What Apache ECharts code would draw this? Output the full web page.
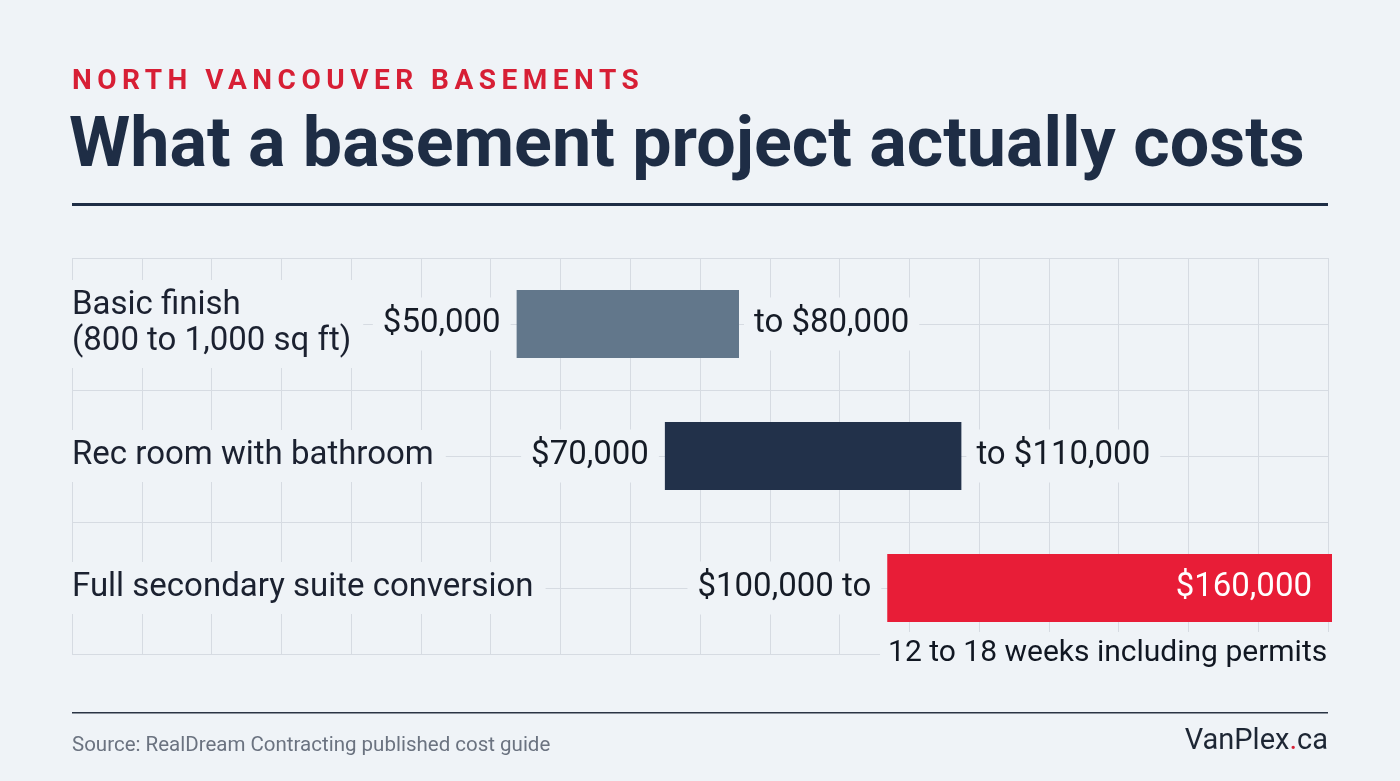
<!DOCTYPE html>
<html>
<head>
<meta charset="utf-8">
<script src="https://cdn.jsdelivr.net/npm/echarts@6/dist/echarts.min.js"></script>
<style>
  html, body { margin: 0; padding: 0; background: #eff3f7; }
  #chart { width: 1400px; height: 781px; }
</style>
</head>
<body>
<div id="chart"></div>
<script>
// ---- data ----
const kicker = 'NORTH VANCOUVER BASEMENTS';
const headline = 'What a basement project actually costs';
const categories = ['Basic finish\n(800 to 1,000 sq ft)', 'Rec room with bathroom', 'Full secondary suite conversion'];
const lowValues = [50000, 70000, 100000];
const highValues = [80000, 110000, 160000];
const barColors = ['#62778b', '#22314a', '#e81d37'];
const noteText = '12 to 18 weeks including permits';
const sourceText = 'Source: RealDream Contracting published cost guide';
const brandName = 'VanPlex';
const brandTld = 'ca';

// letter spacing for the kicker line (canvas supports ctx.letterSpacing)
const _fill = CanvasRenderingContext2D.prototype.fillText;
CanvasRenderingContext2D.prototype.fillText = function (t, x, y, m) {
  if (t === kicker) {
    const prev = this.letterSpacing;
    this.letterSpacing = '5.5px';
    const r = m === undefined ? _fill.call(this, t, x, y) : _fill.call(this, t, x, y, m);
    this.letterSpacing = prev || '0px';
    return r;
  }
  return m === undefined ? _fill.call(this, t, x, y) : _fill.call(this, t, x, y, m);
};

const BG = '#eff3f7';
const FONT = 'Roboto, "Noto Sans", sans-serif';
const fmt = v => '$' + v.toLocaleString('en-US');
const last = categories.length - 1;

const chart = echarts.init(document.getElementById('chart'), null, { renderer: 'canvas' });

const option = {
  backgroundColor: BG,
  animation: false,
  textStyle: { fontFamily: FONT },
  grid: [
    { left: 72, right: 72, top: 258, bottom: 127 },
    { left: 146, right: 68, top: 258, bottom: 127 }
  ],
  xAxis: [
    { gridIndex: 0, type: 'value', min: 0, max: 18, interval: 1, z: 0,
      axisLine: { show: false }, axisTick: { show: false }, axisLabel: { show: false },
      splitLine: { show: true, lineStyle: { color: '#d6dbe2', width: 1 } } },
    { gridIndex: 1, type: 'value', min: 0, max: 160000, show: false }
  ],
  yAxis: [
    { gridIndex: 0, type: 'value', min: 0, max: 6, interval: 1, z: 0,
      axisLine: { show: false }, axisTick: { show: false }, axisLabel: { show: false },
      splitLine: { show: true, lineStyle: { color: '#d6dbe2', width: 1 } } },
    { gridIndex: 1, type: 'category', inverse: true, data: categories, z: 5,
      axisLine: { show: false }, axisTick: { show: false }, splitLine: { show: false },
      axisLabel: {
        align: 'left', margin: 74, fontSize: 33, color: '#1b2130', fontFamily: FONT,
        lineHeight: 36, backgroundColor: BG, padding: [8, 12, 8, 0]
      } }
  ],
  series: [
    {
      name: 'from', type: 'bar', xAxisIndex: 1, yAxisIndex: 1, stack: 'range',
      barWidth: 68, silent: true,
      itemStyle: { color: 'rgba(0,0,0,0)' },
      data: lowValues,
      label: {
        show: true, position: 'insideRight', distance: 6,
        fontSize: 33, color: '#151b26', fontFamily: FONT,
        backgroundColor: BG, padding: [10, 10],
        formatter: p => p.dataIndex === last ? fmt(lowValues[p.dataIndex]) + ' to' : fmt(lowValues[p.dataIndex])
      }
    },
    {
      name: 'range', type: 'bar', xAxisIndex: 1, yAxisIndex: 1, stack: 'range',
      barWidth: 68,
      data: lowValues.map((lo, i) => {
        const item = { value: highValues[i] - lo, itemStyle: { color: barColors[i] } };
        if (i === last) {
          item.label = { position: 'insideRight', distance: 20, color: '#ffffff',
                         backgroundColor: 'transparent', padding: 0 };
        }
        return item;
      }),
      label: {
        show: true, position: 'right', distance: 5,
        fontSize: 33, color: '#151b26', fontFamily: FONT,
        backgroundColor: BG, padding: [10, 10],
        formatter: p => p.dataIndex === last ? fmt(highValues[p.dataIndex]) : 'to ' + fmt(highValues[p.dataIndex])
      }
    },
    {
      name: 'note', type: 'scatter', xAxisIndex: 1, yAxisIndex: 1,
      symbolSize: 0, silent: true,
      itemStyle: { opacity: 1 },
      data: [[(lowValues[last] + highValues[last]) / 2, last]],
      label: {
        show: true, position: 'inside', offset: [-2, 65],
        formatter: noteText, fontSize: 30, color: '#111722', fontFamily: FONT,
        backgroundColor: BG, padding: [6, 8]
      }
    }
  ],
  graphic: [
    { type: 'text', left: 72, top: 68, style: { text: kicker, font: 'bold 28px ' + FONT, fill: '#d71f35' } },
    { type: 'text', left: 69, top: 113, style: { text: headline, font: 'bold 70px ' + FONT, fill: '#1e2d45' } },
    { type: 'rect', left: 72, top: 203, shape: { width: 1256, height: 3 }, style: { fill: '#1e2d45' } },
    { type: 'rect', left: 72, top: 712, shape: { width: 1256, height: 1.5 }, style: { fill: '#2a3444' } },
    { type: 'text', left: 72, top: 735, style: { text: sourceText, font: '20.5px ' + FONT, fill: '#6b7380' } },
    { type: 'text', right: 72, top: 727, style: {
        text: '{a|' + brandName + '}{b|.}{a|' + brandTld + '}',
        rich: {
          a: { font: '29px ' + FONT, fill: '#1d2634' },
          b: { font: '29px ' + FONT, fill: '#d71f35' }
        }
      } }
  ]
};
chart.setOption(option);
</script>
</body>
</html>
